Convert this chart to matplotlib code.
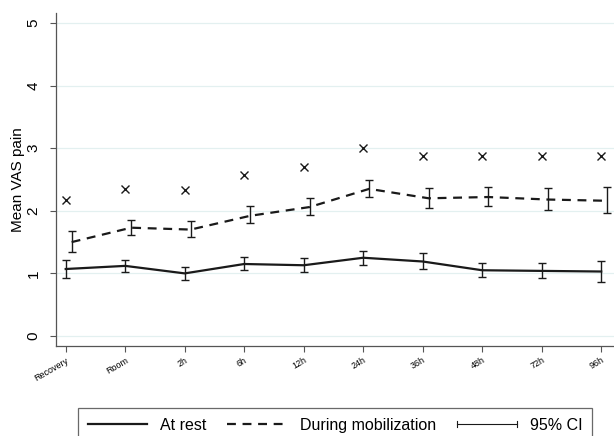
import matplotlib
matplotlib.use("Agg")
import matplotlib.pyplot as plt
import numpy as np
from matplotlib.lines import Line2D
from matplotlib.legend_handler import HandlerBase

plt.rcParams['font.family'] = ['Liberation Sans', 'DejaVu Sans']

categories = ["Recovery", "Room", "2h", "6h", "12h", "24h", "36h", "48h", "72h", "96h"]
rest_mean = [1.07, 1.12, 1.00, 1.15, 1.13, 1.25, 1.19, 1.05, 1.04, 1.03]
rest_lo = [0.93, 1.03, 0.90, 1.05, 1.03, 1.14, 1.07, 0.95, 0.92, 0.87]
rest_hi = [1.21, 1.22, 1.10, 1.26, 1.24, 1.36, 1.32, 1.16, 1.16, 1.20]
mob_mean = [1.50, 1.73, 1.70, 1.92, 2.06, 2.35, 2.20, 2.22, 2.18, 2.16]
mob_lo = [1.34, 1.62, 1.58, 1.80, 1.94, 2.22, 2.05, 2.08, 2.01, 1.97]
mob_hi = [1.68, 1.86, 1.84, 2.07, 2.20, 2.49, 2.37, 2.38, 2.37, 2.38]
cross_vals = [2.17, 2.35, 2.34, 2.57, 2.70, 3.00, 2.87, 2.88, 2.87, 2.87]
yticks = [0, 1, 2, 3, 4, 5]

W, H = 614, 436
fig = plt.figure(figsize=(W / 100, H / 100), dpi=100)
ax = fig.add_axes([56 / W, 1 - 346 / H, (W - 56) / W, (346 - 13) / H])

x = np.arange(len(categories))
xm = x + 0.1
rest_mean = np.array(rest_mean); mob_mean = np.array(mob_mean)
rerr = [rest_mean - np.array(rest_lo), np.array(rest_hi) - rest_mean]
merr = [mob_mean - np.array(mob_lo), np.array(mob_hi) - mob_mean]

col = '#1a1a1a'
ax.plot(x, rest_mean, color=col, lw=1.6, zorder=3)
ax.errorbar(x, rest_mean, yerr=rerr, fmt='none', ecolor=col, elinewidth=1.0, capsize=3, capthick=1.0, zorder=3)
ax.plot(xm, mob_mean, color=col, lw=1.6, ls=(0, (4, 3)), zorder=3)
ax.errorbar(xm, mob_mean, yerr=merr, fmt='none', ecolor=col, elinewidth=1.0, capsize=3, capthick=1.0, zorder=3)
ax.plot(x, cross_vals, ls='none', marker='x', ms=5.5, mew=1.0, color=col, zorder=3)

ax.set_xlim(-0.163, 9.215)
ax.set_ylim(-0.16, 5.16)
ax.set_yticks(yticks)
ax.set_yticklabels([str(v) for v in yticks], rotation=90, va='center', fontsize=11)
ax.set_xticks(x)
ax.set_xticklabels(categories, rotation=30, ha='right', rotation_mode='anchor', fontsize=6.5)
ax.tick_params(axis='x', length=4, width=0.8, color='#555555', pad=3)
ax.tick_params(axis='y', length=4, width=0.8, color='#555555', pad=7)
ax.grid(axis='y', color='#e3f0f0', lw=0.9)
ax.set_axisbelow(True)
for s in ['top', 'right']:
    ax.spines[s].set_visible(False)
for s in ['left', 'bottom']:
    ax.spines[s].set_color('#555555')
    ax.spines[s].set_linewidth(0.9)
ax.set_ylabel("Mean VAS pain", fontsize=11)
ax.yaxis.set_label_coords(-(56 - 25) / (W - 56), 0.5)


class CIHandler(HandlerBase):
    def create_artists(self, legend, orig_handle, xdescent, ydescent, width, height, fontsize, trans):
        y = height / 2 - ydescent
        line = Line2D([-xdescent, -xdescent + width], [y, y], color=col, lw=0.8, transform=trans)
        c1 = Line2D([-xdescent, -xdescent], [y - 2, y + 2], color=col, lw=0.8, transform=trans)
        c2 = Line2D([-xdescent + width, -xdescent + width], [y - 2, y + 2], color=col, lw=0.8, transform=trans)
        return [line, c1, c2]


h1 = Line2D([], [], color=col, lw=1.6)
h2 = Line2D([], [], color=col, lw=1.6, ls=(0, (4, 3)))
h3 = object()
leg = fig.legend([h1, h2, h3], ["At rest", "During mobilization", "95% CI"],
                 handler_map={h3: CIHandler()},
                 loc='upper left', bbox_to_anchor=(78 / W, 0, (592 - 78) / W, 1 - 408 / H),
                 mode='expand', ncol=3, fontsize=11.5, frameon=True, fancybox=False,
                 edgecolor='#444444', handlelength=3.75, handletextpad=0.8,
                 borderpad=0.6, borderaxespad=0, columnspacing=1.45)
leg.get_frame().set_linewidth(0.9)

fig.savefig("out.png", dpi=100)
